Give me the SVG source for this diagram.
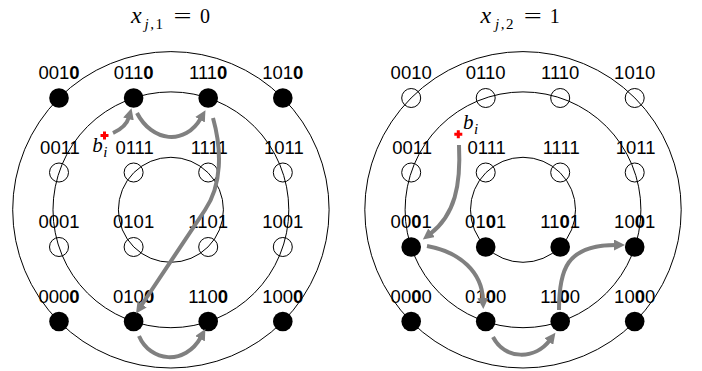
<svg xmlns="http://www.w3.org/2000/svg" width="702" height="371" viewBox="0 0 702 371">
<style>
.ring{fill:none;stroke:#000;stroke-width:1}
.on{fill:#000}
.off{fill:none;stroke:#000;stroke-width:1}
.lbl{font-family:"Liberation Sans",Arial,sans-serif;font-size:18.5px;text-anchor:middle;fill:#000}
.b{font-weight:bold}
.m{font-family:"Liberation Serif","Times New Roman",serif;font-size:20px;fill:#000}
.big{font-size:21px}
.xl{font-size:24px}
.sub{font-size:15px}
.it{font-style:italic}
.arr{fill:none;stroke:#808080;stroke-width:4;marker-end:url(#ah)}
.plus{stroke:#ff0000;stroke-width:3}
</style>
<defs>
<marker id="ah" markerUnits="userSpaceOnUse" markerWidth="12" markerHeight="11" refX="2" refY="5.5" orient="auto" viewBox="0 0 12 11">
<path d="M0,0 L11,5.5 L0,11 z" fill="#808080"/>
</marker>
</defs>
<rect width="702" height="371" fill="#fff"/>

<g id="titles">
<text class="m it xl" x="131" y="23">x</text>
<text class="m sub" x="144.5" y="28.5" letter-spacing="1.5"><tspan class="it">j</tspan>,1</text>
<text class="m" transform="translate(182.5,23) scale(1.6,1)" text-anchor="middle">=</text>
<text class="m" x="205" y="23" text-anchor="middle">0</text>
<text class="m it xl" x="480.5" y="23">x</text>
<text class="m sub" x="495" y="28.5" letter-spacing="1.5"><tspan class="it">j</tspan>,2</text>
<text class="m" transform="translate(532.8,23) scale(1.6,1)" text-anchor="middle">=</text>
<text class="m" x="554.7" y="23" text-anchor="middle">1</text>
</g>

<g id="rings">
<circle class="ring" cx="170.9" cy="209.8" r="158.2"/>
<circle class="ring" cx="170.9" cy="209.8" r="117.9"/>
<circle class="ring" cx="170.9" cy="209.8" r="52.5"/>
<circle class="ring" cx="523" cy="209.8" r="158.2"/>
<circle class="ring" cx="523" cy="209.8" r="117.9"/>
<circle class="ring" cx="523" cy="209.8" r="52.5"/>
</g>

<!-- Left diagram nodes -->
<g id="L0010"><circle class="on" cx="59" cy="98" r="9.8"/><text class="lbl" x="59" y="79">001<tspan class="b">0</tspan></text></g>
<g id="L0110"><circle class="on" cx="133.6" cy="98" r="9.8"/><text class="lbl" x="133.6" y="79">011<tspan class="b">0</tspan></text></g>
<g id="L1110"><circle class="on" cx="208.2" cy="98" r="9.8"/><text class="lbl" x="208.2" y="79">111<tspan class="b">0</tspan></text></g>
<g id="L1010"><circle class="on" cx="282.8" cy="98" r="9.8"/><text class="lbl" x="282.8" y="79">101<tspan class="b">0</tspan></text></g>
<g id="L0011"><circle class="off" cx="59" cy="172.5" r="9.5"/><text class="lbl" x="60" y="153.5">0011</text></g>
<g id="L0111"><circle class="off" cx="133.6" cy="172.5" r="9.5"/><text class="lbl" x="134.6" y="153.5">0111</text></g>
<g id="L1111"><circle class="off" cx="208.2" cy="172.5" r="9.5"/><text class="lbl" x="209.2" y="153.5">1111</text></g>
<g id="L1011"><circle class="off" cx="282.8" cy="172.5" r="9.5"/><text class="lbl" x="283.8" y="153.5">1011</text></g>
<g id="L0001"><circle class="off" cx="59" cy="247" r="9.5"/><text class="lbl" x="59" y="228">0001</text></g>
<g id="L0101"><circle class="off" cx="133.6" cy="247" r="9.5"/><text class="lbl" x="133.6" y="228">0101</text></g>
<g id="L1101"><circle class="off" cx="208.2" cy="247" r="9.5"/><text class="lbl" x="208.2" y="228">1101</text></g>
<g id="L1001"><circle class="off" cx="282.8" cy="247" r="9.5"/><text class="lbl" x="282.8" y="228">1001</text></g>
<g id="L0000"><circle class="on" cx="59" cy="321.5" r="9.8"/><text class="lbl" x="59" y="302.5">000<tspan class="b">0</tspan></text></g>
<g id="L0100"><circle class="on" cx="133.6" cy="321.5" r="9.8"/><text class="lbl" x="133.6" y="302.5">010<tspan class="b">0</tspan></text></g>
<g id="L1100"><circle class="on" cx="208.2" cy="321.5" r="9.8"/><text class="lbl" x="208.2" y="302.5">110<tspan class="b">0</tspan></text></g>
<g id="L1000"><circle class="on" cx="282.8" cy="321.5" r="9.8"/><text class="lbl" x="282.8" y="302.5">100<tspan class="b">0</tspan></text></g>

<!-- Right diagram nodes -->
<g id="R0010"><circle class="off" cx="411.2" cy="98" r="9.5"/><text class="lbl" x="411.2" y="79">0010</text></g>
<g id="R0110"><circle class="off" cx="485.7" cy="98" r="9.5"/><text class="lbl" x="485.7" y="79">0110</text></g>
<g id="R1110"><circle class="off" cx="560.2" cy="98" r="9.5"/><text class="lbl" x="560.2" y="79">1110</text></g>
<g id="R1010"><circle class="off" cx="634.7" cy="98" r="9.5"/><text class="lbl" x="634.7" y="79">1010</text></g>
<g id="R0011"><circle class="off" cx="411.2" cy="172.5" r="9.5"/><text class="lbl" x="412.2" y="153.5">0011</text></g>
<g id="R0111"><circle class="off" cx="485.7" cy="172.5" r="9.5"/><text class="lbl" x="486.7" y="153.5">0111</text></g>
<g id="R1111"><circle class="off" cx="560.2" cy="172.5" r="9.5"/><text class="lbl" x="561.2" y="153.5">1111</text></g>
<g id="R1011"><circle class="off" cx="634.7" cy="172.5" r="9.5"/><text class="lbl" x="635.7" y="153.5">1011</text></g>
<g id="R0001"><circle class="on" cx="411.2" cy="247" r="9.8"/><text class="lbl" x="411.2" y="228">00<tspan class="b">0</tspan>1</text></g>
<g id="R0101"><circle class="on" cx="485.7" cy="247" r="9.8"/><text class="lbl" x="485.7" y="228">01<tspan class="b">0</tspan>1</text></g>
<g id="R1101"><circle class="on" cx="560.2" cy="247" r="9.8"/><text class="lbl" x="560.2" y="228">11<tspan class="b">0</tspan>1</text></g>
<g id="R1001"><circle class="on" cx="634.7" cy="247" r="9.8"/><text class="lbl" x="634.7" y="228">10<tspan class="b">0</tspan>1</text></g>
<g id="R0000"><circle class="on" cx="411.2" cy="321.5" r="9.8"/><text class="lbl" x="411.2" y="302.5">00<tspan class="b">0</tspan>0</text></g>
<g id="R0100"><circle class="on" cx="485.7" cy="321.5" r="9.8"/><text class="lbl" x="485.7" y="302.5">01<tspan class="b">0</tspan>0</text></g>
<g id="R1100"><circle class="on" cx="560.2" cy="321.5" r="9.8"/><text class="lbl" x="560.2" y="302.5">11<tspan class="b">0</tspan>0</text></g>
<g id="R1000"><circle class="on" cx="634.7" cy="321.5" r="9.8"/><text class="lbl" x="634.7" y="302.5">10<tspan class="b">0</tspan>0</text></g>

<!-- b_i start points -->
<g id="bi-left">
<path class="plus" d="M100.5,135.5 H108.5 M104.5,131.5 V139.5"/>
<text class="m it big" x="92.3" y="152">b<tspan class="sub" dx="0.5" dy="5">i</tspan></text>
</g>
<g id="bi-right">
<path class="plus" d="M454.3,134.3 H462.3 M458.3,130.3 V138.3"/>
<text class="m it big" x="463" y="129">b<tspan class="sub" dx="0.5" dy="4.5">i</tspan></text>
</g>

<g id="connectors">
<path class="arr" d="M113,133 C122,129 127,124 129,117"/>
<path class="arr" d="M137,113 C152,142 185,146 201,118"/>
<path class="arr" d="M213,118 C222,150 222,185 205,210 L141,306"/>
<path class="arr" d="M139,336 C150,362 185,366 201,337"/>
<path class="arr" d="M459,145 C461,185 455,215 430,234"/>
<path class="arr" d="M427,246 C460,252 482,272 483,300"/>
<path class="arr" d="M493,337 C505,360 535,360 550,340"/>
<path class="arr" d="M559,310 C559,270 566,245 616,245"/>
</g>
</svg>
